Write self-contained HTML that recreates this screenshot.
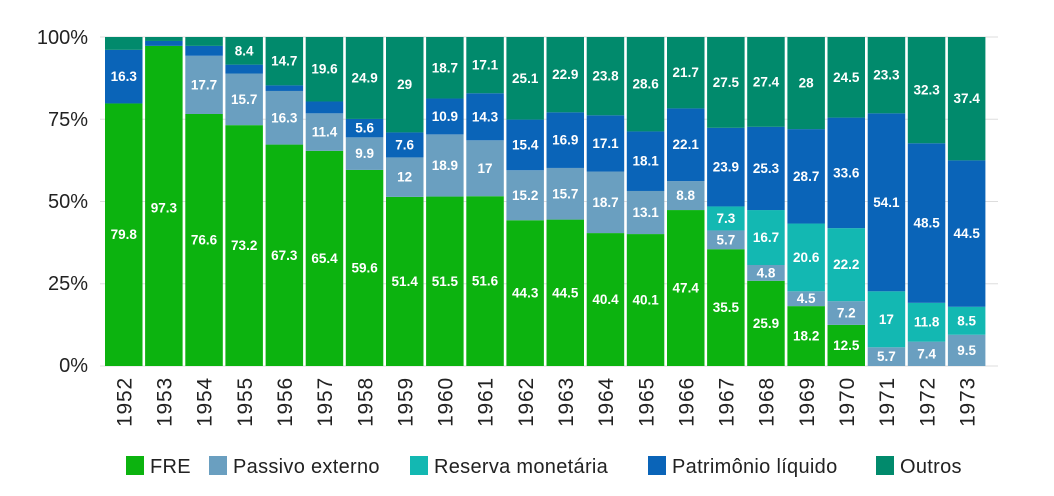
<!DOCTYPE html>
<html><head><meta charset="utf-8"><style>
body{margin:0;background:#fff;}
svg{display:block;font-family:"Liberation Sans",sans-serif;}
.l{fill:#fff;font-weight:bold;font-size:13.5px;text-anchor:middle;dominant-baseline:central;}
.y{font-size:20px;fill:#222;text-anchor:end;dominant-baseline:central;}
.x{font-size:21px;fill:#222;text-anchor:end;letter-spacing:0.8px;}
.g{font-size:20px;fill:#222;letter-spacing:0.3px;}
</style></head><body>
<svg width="1054" height="496" viewBox="0 0 1054 496">
<g stroke="#ddd" stroke-width="1">
<line x1="100" x2="998" y1="37" y2="37"/><line x1="100" x2="998" y1="119.3" y2="119.3"/><line x1="100" x2="998" y1="201.5" y2="201.5"/><line x1="100" x2="998" y1="283.8" y2="283.8"/><line x1="100" x2="998" y1="366" y2="366"/>
</g>
<text class="y" x="88" y="38">100%</text><text class="y" x="88" y="120">75%</text><text class="y" x="88" y="202">50%</text><text class="y" x="88" y="284">25%</text><text class="y" x="88" y="366">0%</text>
<g transform="translate(0,366) scale(1,-3.29)">
<g fill="#0cb30f">
<rect x="105" y="0" width="37.5" height="79.8"/><rect x="145.1" y="0" width="37.5" height="97.3"/><rect x="185.3" y="0" width="37.5" height="76.6"/><rect x="225.4" y="0" width="37.5" height="73.2"/><rect x="265.6" y="0" width="37.5" height="67.3"/><rect x="305.7" y="0" width="37.5" height="65.4"/><rect x="345.8" y="0" width="37.5" height="59.6"/><rect x="386" y="0" width="37.5" height="51.4"/><rect x="426.1" y="0" width="37.5" height="51.5"/><rect x="466.3" y="0" width="37.5" height="51.6"/><rect x="506.4" y="0" width="37.5" height="44.3"/><rect x="546.5" y="0" width="37.5" height="44.5"/><rect x="586.7" y="0" width="37.5" height="40.4"/><rect x="626.8" y="0" width="37.5" height="40.1"/><rect x="667" y="0" width="37.5" height="47.4"/><rect x="707.1" y="0" width="37.5" height="35.5"/><rect x="747.2" y="0" width="37.5" height="25.9"/><rect x="787.4" y="0" width="37.5" height="18.2"/><rect x="827.5" y="0" width="37.5" height="12.5"/>
</g>
<g fill="#6a9fc0">
<rect x="185.3" y="76.6" width="37.5" height="17.7"/><rect x="225.4" y="73.2" width="37.5" height="15.7"/><rect x="265.6" y="67.3" width="37.5" height="16.3"/><rect x="305.7" y="65.4" width="37.5" height="11.4"/><rect x="345.8" y="59.6" width="37.5" height="9.9"/><rect x="386" y="51.4" width="37.5" height="12"/><rect x="426.1" y="51.5" width="37.5" height="18.9"/><rect x="466.3" y="51.6" width="37.5" height="17"/><rect x="506.4" y="44.3" width="37.5" height="15.2"/><rect x="546.5" y="44.5" width="37.5" height="15.7"/><rect x="586.7" y="40.4" width="37.5" height="18.7"/><rect x="626.8" y="40.1" width="37.5" height="13.1"/><rect x="667" y="47.4" width="37.5" height="8.8"/><rect x="707.1" y="35.5" width="37.5" height="5.7"/><rect x="747.2" y="25.9" width="37.5" height="4.8"/><rect x="787.4" y="18.2" width="37.5" height="4.5"/><rect x="827.5" y="12.5" width="37.5" height="7.2"/><rect x="867.7" y="0" width="37.5" height="5.7"/><rect x="907.8" y="0" width="37.5" height="7.4"/><rect x="947.9" y="0" width="37.5" height="9.5"/>
</g>
<g fill="#13b8b2">
<rect x="707.1" y="41.2" width="37.5" height="7.3"/><rect x="747.2" y="30.7" width="37.5" height="16.7"/><rect x="787.4" y="22.7" width="37.5" height="20.6"/><rect x="827.5" y="19.7" width="37.5" height="22.2"/><rect x="867.7" y="5.7" width="37.5" height="17"/><rect x="907.8" y="7.4" width="37.5" height="11.8"/><rect x="947.9" y="9.5" width="37.5" height="8.5"/>
</g>
<g fill="#0a64b8">
<rect x="105" y="79.8" width="37.5" height="16.3"/><rect x="145.1" y="97.3" width="37.5" height="1.5"/><rect x="185.3" y="94.3" width="37.5" height="3"/><rect x="225.4" y="88.9" width="37.5" height="2.7"/><rect x="265.6" y="83.6" width="37.5" height="1.7"/><rect x="305.7" y="76.8" width="37.5" height="3.6"/><rect x="345.8" y="69.5" width="37.5" height="5.6"/><rect x="386" y="63.4" width="37.5" height="7.6"/><rect x="426.1" y="70.4" width="37.5" height="10.9"/><rect x="466.3" y="68.6" width="37.5" height="14.3"/><rect x="506.4" y="59.5" width="37.5" height="15.4"/><rect x="546.5" y="60.2" width="37.5" height="16.9"/><rect x="586.7" y="59.1" width="37.5" height="17.1"/><rect x="626.8" y="53.2" width="37.5" height="18.1"/><rect x="667" y="56.2" width="37.5" height="22.1"/><rect x="707.1" y="48.5" width="37.5" height="23.9"/><rect x="747.2" y="47.4" width="37.5" height="25.3"/><rect x="787.4" y="43.3" width="37.5" height="28.7"/><rect x="827.5" y="41.9" width="37.5" height="33.6"/><rect x="867.7" y="22.7" width="37.5" height="54.1"/><rect x="907.8" y="19.2" width="37.5" height="48.5"/><rect x="947.9" y="18" width="37.5" height="44.5"/>
</g>
<g fill="#018a6c">
<rect x="105" y="96.1" width="37.5" height="3.9"/><rect x="145.1" y="98.8" width="37.5" height="1.2"/><rect x="185.3" y="97.3" width="37.5" height="2.7"/><rect x="225.4" y="91.6" width="37.5" height="8.4"/><rect x="265.6" y="85.3" width="37.5" height="14.7"/><rect x="305.7" y="80.4" width="37.5" height="19.6"/><rect x="345.8" y="75.1" width="37.5" height="24.9"/><rect x="386" y="71" width="37.5" height="29"/><rect x="426.1" y="81.3" width="37.5" height="18.7"/><rect x="466.3" y="82.9" width="37.5" height="17.1"/><rect x="506.4" y="74.9" width="37.5" height="25.1"/><rect x="546.5" y="77.1" width="37.5" height="22.9"/><rect x="586.7" y="76.2" width="37.5" height="23.8"/><rect x="626.8" y="71.3" width="37.5" height="28.7"/><rect x="667" y="78.3" width="37.5" height="21.7"/><rect x="707.1" y="72.4" width="37.5" height="27.6"/><rect x="747.2" y="72.7" width="37.5" height="27.3"/><rect x="787.4" y="72" width="37.5" height="28"/><rect x="827.5" y="75.5" width="37.5" height="24.5"/><rect x="867.7" y="76.8" width="37.5" height="23.2"/><rect x="907.8" y="67.7" width="37.5" height="32.3"/><rect x="947.9" y="62.5" width="37.5" height="37.5"/>
</g>
</g>
<g>
<text class="l" x="123.8" y="234.7">79.8</text><text class="l" x="123.8" y="76.6">16.3</text>
<text class="l" x="163.9" y="208">97.3</text>
<text class="l" x="204" y="240">76.6</text><text class="l" x="204" y="84.9">17.7</text>
<text class="l" x="244.2" y="245.6">73.2</text><text class="l" x="244.2" y="99.3">15.7</text><text class="l" x="244.2" y="50.8">8.4</text>
<text class="l" x="284.3" y="255.3">67.3</text><text class="l" x="284.3" y="117.8">16.3</text><text class="l" x="284.3" y="61.2">14.7</text>
<text class="l" x="324.5" y="258.4">65.4</text><text class="l" x="324.5" y="132.1">11.4</text><text class="l" x="324.5" y="69.2">19.6</text>
<text class="l" x="364.6" y="268">59.6</text><text class="l" x="364.6" y="153.6">9.9</text><text class="l" x="364.6" y="128.1">5.6</text><text class="l" x="364.6" y="78">24.9</text>
<text class="l" x="404.7" y="281.4">51.4</text><text class="l" x="404.7" y="177.2">12</text><text class="l" x="404.7" y="144.9">7.6</text><text class="l" x="404.7" y="84.7">29</text>
<text class="l" x="444.9" y="281.3">51.5</text><text class="l" x="444.9" y="165.5">18.9</text><text class="l" x="444.9" y="116.5">10.9</text><text class="l" x="444.9" y="67.8">18.7</text>
<text class="l" x="485" y="281.1">51.6</text><text class="l" x="485" y="168.3">17</text><text class="l" x="485" y="116.8">14.3</text><text class="l" x="485" y="65.1">17.1</text>
<text class="l" x="525.2" y="293.1">44.3</text><text class="l" x="525.2" y="195.3">15.2</text><text class="l" x="525.2" y="144.9">15.4</text><text class="l" x="525.2" y="78.3">25.1</text>
<text class="l" x="565.3" y="292.8">44.5</text><text class="l" x="565.3" y="193.8">15.7</text><text class="l" x="565.3" y="140.1">16.9</text><text class="l" x="565.3" y="74.7">22.9</text>
<text class="l" x="605.5" y="299.5">40.4</text><text class="l" x="605.5" y="202.3">18.7</text><text class="l" x="605.5" y="143.4">17.1</text><text class="l" x="605.5" y="76.1">23.8</text>
<text class="l" x="645.6" y="300">40.1</text><text class="l" x="645.6" y="212.5">13.1</text><text class="l" x="645.6" y="161.2">18.1</text><text class="l" x="645.6" y="84.2">28.6</text>
<text class="l" x="685.7" y="288">47.4</text><text class="l" x="685.7" y="195.6">8.8</text><text class="l" x="685.7" y="144.7">22.1</text><text class="l" x="685.7" y="72.7">21.7</text>
<text class="l" x="725.9" y="307.6">35.5</text><text class="l" x="725.9" y="239.8">5.7</text><text class="l" x="725.9" y="218.4">7.3</text><text class="l" x="725.9" y="167.1">23.9</text><text class="l" x="725.9" y="82.4">27.5</text>
<text class="l" x="766" y="323.4">25.9</text><text class="l" x="766" y="272.9">4.8</text><text class="l" x="766" y="237.5">16.7</text><text class="l" x="766" y="168.4">25.3</text><text class="l" x="766" y="81.9">27.4</text>
<text class="l" x="806.2" y="336.1">18.2</text><text class="l" x="806.2" y="298.7">4.5</text><text class="l" x="806.2" y="257.4">20.6</text><text class="l" x="806.2" y="176.3">28.7</text><text class="l" x="806.2" y="83.1">28</text>
<text class="l" x="846.3" y="345.4">12.5</text><text class="l" x="846.3" y="313">7.2</text><text class="l" x="846.3" y="264.7">22.2</text><text class="l" x="846.3" y="172.9">33.6</text><text class="l" x="846.3" y="77.3">24.5</text>
<text class="l" x="886.4" y="356.6">5.7</text><text class="l" x="886.4" y="319.3">17</text><text class="l" x="886.4" y="202.3">54.1</text><text class="l" x="886.4" y="75.2">23.3</text>
<text class="l" x="926.6" y="353.8">7.4</text><text class="l" x="926.6" y="322.2">11.8</text><text class="l" x="926.6" y="223">48.5</text><text class="l" x="926.6" y="90.1">32.3</text>
<text class="l" x="966.7" y="350.4">9.5</text><text class="l" x="966.7" y="320.8">8.5</text><text class="l" x="966.7" y="233.6">44.5</text><text class="l" x="966.7" y="98.7">37.4</text>
</g>
<g>
<text class="x" transform="translate(131.5,377) rotate(-90)">1952</text>
<text class="x" transform="translate(171.6,377) rotate(-90)">1953</text>
<text class="x" transform="translate(211.7,377) rotate(-90)">1954</text>
<text class="x" transform="translate(251.9,377) rotate(-90)">1955</text>
<text class="x" transform="translate(292,377) rotate(-90)">1956</text>
<text class="x" transform="translate(332.2,377) rotate(-90)">1957</text>
<text class="x" transform="translate(372.3,377) rotate(-90)">1958</text>
<text class="x" transform="translate(412.4,377) rotate(-90)">1959</text>
<text class="x" transform="translate(452.6,377) rotate(-90)">1960</text>
<text class="x" transform="translate(492.7,377) rotate(-90)">1961</text>
<text class="x" transform="translate(532.9,377) rotate(-90)">1962</text>
<text class="x" transform="translate(573,377) rotate(-90)">1963</text>
<text class="x" transform="translate(613.2,377) rotate(-90)">1964</text>
<text class="x" transform="translate(653.3,377) rotate(-90)">1965</text>
<text class="x" transform="translate(693.4,377) rotate(-90)">1966</text>
<text class="x" transform="translate(733.6,377) rotate(-90)">1967</text>
<text class="x" transform="translate(773.7,377) rotate(-90)">1968</text>
<text class="x" transform="translate(813.9,377) rotate(-90)">1969</text>
<text class="x" transform="translate(854,377) rotate(-90)">1970</text>
<text class="x" transform="translate(894.1,377) rotate(-90)">1971</text>
<text class="x" transform="translate(934.3,377) rotate(-90)">1972</text>
<text class="x" transform="translate(974.4,377) rotate(-90)">1973</text>
</g>
<g>
<rect x="126" y="456" width="18" height="19" fill="#0cb30f"/><text class="g" x="150" y="473">FRE</text>
<rect x="209" y="456" width="18" height="19" fill="#6a9fc0"/><text class="g" x="233" y="473">Passivo externo</text>
<rect x="410" y="456" width="18" height="19" fill="#13b8b2"/><text class="g" x="434" y="473">Reserva monetária</text>
<rect x="648" y="456" width="18" height="19" fill="#0a64b8"/><text class="g" x="672" y="473">Patrimônio líquido</text>
<rect x="876" y="456" width="18" height="19" fill="#018a6c"/><text class="g" x="900" y="473">Outros</text>
</g>
</svg>
</body></html>
